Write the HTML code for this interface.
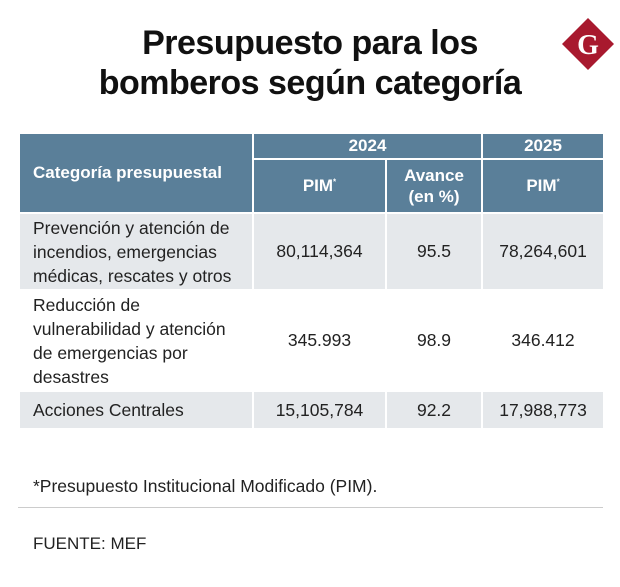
<!DOCTYPE html>
<html><head><meta charset="utf-8"><style>
body{margin:0;width:620px;height:587px;background:#fff;font-family:"Liberation Sans",sans-serif;position:relative;overflow:hidden}
.t{position:absolute;left:0;width:620px;text-align:center;font-weight:bold;font-size:34px;color:#111;letter-spacing:-0.5px}
table{position:absolute;left:18px;top:132px;width:585px;border-collapse:collapse;table-layout:fixed}
td,th{border:2px solid #fff;padding:0}
th{background:#5a7f99;color:#fff;font-size:17px;font-weight:bold}
td{font-size:17.5px;color:#222;text-align:center}
td.c{text-align:left;padding-left:13px;line-height:24px}
tr.g td{background:#e5e8eb}
</style></head><body>
<div class="t" style="top:24px">Presupuesto para los</div>
<div class="t" style="top:64px">bomberos según categoría</div>
<svg style="position:absolute;left:560px;top:16px" width="56" height="56"><polygon points="28,2 54,28 28,54 2,28" fill="#a8192e"/><text x="28" y="38" text-anchor="middle" font-family="Liberation Serif" font-weight="bold" font-size="28" fill="#fff">G</text></svg>
<table>
<colgroup><col style="width:234px"><col style="width:133px"><col style="width:96px"><col style="width:122px"></colgroup>
<tr style="height:26px"><th rowspan="2" style="text-align:left;padding-left:13px">Categoría presupuestal</th><th colspan="2">2024</th><th>2025</th></tr>
<tr style="height:54px"><th>PIM<sup style="font-size:8px">*</sup></th><th style="line-height:21px">Avance<br>(en %)</th><th>PIM<sup style="font-size:8px">*</sup></th></tr>
<tr class="g" style="height:77px"><td class="c">Prevención y atención de<br>incendios, emergencias<br>médicas, rescates y otros</td><td>80,114,364</td><td>95.5</td><td>78,264,601</td></tr>
<tr style="height:101px"><td class="c">Reducción de<br>vulnerabilidad y atención<br>de emergencias por<br>desastres</td><td>345.993</td><td>98.9</td><td>346.412</td></tr>
<tr class="g" style="height:38px"><td class="c">Acciones Centrales</td><td>15,105,784</td><td>92.2</td><td>17,988,773</td></tr>
</table>
<div style="position:absolute;left:33px;top:476px;font-size:17.5px;color:#222">*Presupuesto Institucional Modificado (PIM).</div>
<div style="position:absolute;left:18px;top:507px;width:585px;height:1px;background:#ccc"></div>
<div style="position:absolute;left:33px;top:534px;font-size:17px;color:#222">FUENTE: MEF</div>
</body></html>
